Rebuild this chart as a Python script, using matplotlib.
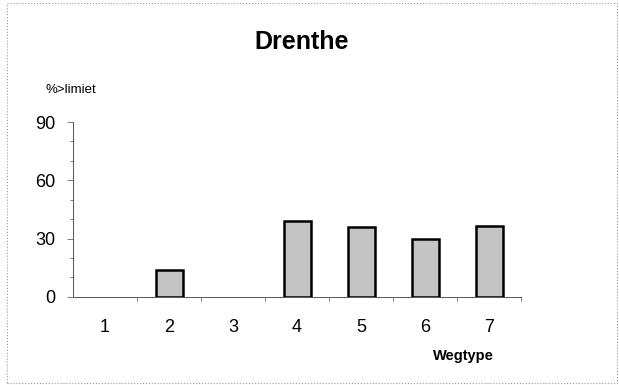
import matplotlib.pyplot as plt
from matplotlib.patches import Rectangle
import numpy as np

plt.rcParams['font.family'] = ['Liberation Sans', 'DejaVu Sans']

wegtype = [1, 2, 3, 4, 5, 6, 7]
pct_over = [0, 14, 0, 39, 36, 30, 36.5]
y_ticks = [0, 30, 60, 90]

fig = plt.figure(figsize=(6.19, 3.85), dpi=100)
ax = fig.add_axes([0.118, 0.229, 0.724, 0.454])

# bars with black edges; empty categories left without a bar
x = np.array(wegtype)
vals = np.array(pct_over)
mask = vals > 0
ax.bar(x[mask], vals[mask], width=0.42, color='#c4c4c4', edgecolor='black', linewidth=1.8, zorder=3)

ax.set_xlim(0.5, 7.5)
ax.set_ylim(0, 90)
ax.set_yticks(y_ticks)
ax.set_yticks(np.arange(0, 91, 10), minor=True)
ax.set_xticks(wegtype)
ax.set_xticks(np.arange(1.5, 7.6, 1), minor=True)
ax.tick_params(axis='x', which='major', length=0, pad=16, labelsize=13)
ax.tick_params(axis='x', which='minor', length=3, width=0.6, color='#666666')
ax.tick_params(axis='y', which='major', length=4, width=0.6, color='#666666', pad=9, labelsize=13)
ax.tick_params(axis='y', which='minor', length=2, width=0.6, color='#666666')

for s in ['top', 'right']:
    ax.spines[s].set_visible(False)
for s in ['left', 'bottom']:
    ax.spines[s].set_linewidth(0.7)
    ax.spines[s].set_color('#555555')

fig.text(0.487, 0.89, 'Drenthe', ha='center', va='center', fontsize=18, fontweight='bold')
fig.text(0.073, 0.766, '%>limiet', ha='left', va='center', fontsize=9.5)
fig.text(0.748, 0.075, 'Wegtype', ha='center', va='center', fontsize=10.5, fontweight='bold')

# grey frame around the whole chart
fig.patches.append(Rectangle((0.011, 0.004), 0.985, 0.988, transform=fig.transFigure,
                             fill=False, edgecolor='#999999', linewidth=0.8, linestyle=':'))

fig.savefig('out.png', dpi=100)
